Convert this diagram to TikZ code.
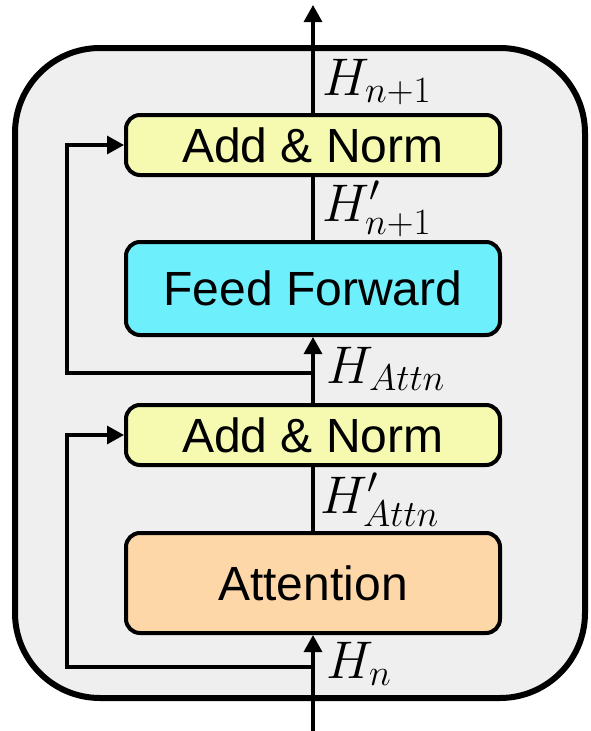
\documentclass[tikz,border=0pt]{standalone}
\usepackage{fix-cm}
\usepackage[no-math]{fontspec}
\setmainfont{Liberation Sans}
\usetikzlibrary{arrows.meta}

\definecolor{blockgray}{RGB}{239,239,239}
\definecolor{normyellow}{RGB}{245,250,176}
\definecolor{ffcyan}{RGB}{110,240,252}
\definecolor{attpeach}{RGB}{253,215,168}

\tikzset{
  block/.style={draw=black, line width=6pt, fill=blockgray, rounded corners=85pt,
                minimum width=570pt, minimum height=650pt, inner sep=0pt},
  layerbox/.style={draw=black, line width=4pt, rounded corners=14pt,
                   minimum width=374pt, inner sep=0pt,
                   font=\fontsize{48}{56}\selectfont},
  normbox/.style={layerbox, fill=normyellow, minimum height=60pt},
  link/.style={draw=black, line width=3.2pt},
  arr/.style={link, -{Triangle[length=17pt,width=18pt]}},
  hlabel/.style={anchor=base west, inner sep=0pt, font=\fontsize{53}{60}\selectfont},
}

\begin{document}
\begin{tikzpicture}[x=1pt,y=-1pt]
  \useasboundingbox (0,0) rectangle (590,731);

  % enclosing layer block
  \node[block] (layer) at (300,373) {};

  % sub-layers
  \node[normbox] (an2) at (313,145) {Add \& Norm};
  \node[layerbox, fill=ffcyan, minimum height=93pt] (ff) at (313,288.5) {Feed Forward};
  \node[normbox] (an1) at (313,435) {Add \& Norm};
  \node[layerbox, fill=attpeach, minimum height=100pt] (att) at (313,583) {Attention};

  % stream end points and residual branch corners
  \coordinate (in)  at (313,731);
  \coordinate (out) at (313,5);
  \coordinate (s1)  at (313,667);
  \coordinate (c1)  at (67,667);
  \coordinate (s2)  at (313,373);
  \coordinate (c2)  at (67,373);

  % main stream
  \draw[arr] (in) -- (att);
  \draw[link] (att) -- (an1);
  \draw[arr] (an1) -- (ff);
  \draw[link] (ff) -- (an2);
  \draw[arr] (an2) -- (out);

  % residual connections
  \draw[arr] (s1) -- (c1) |- (an1.west);
  \draw[arr] (s2) -- (c2) |- (an2.west);

  % hidden state labels
  \node[hlabel] (lout)  at (322,95)  {$H_{n+1}$};
  \node[hlabel] (lffo)  at (322,221) {$H'_{n+1}$};
  \node[hlabel] (lattn) at (326,383) {$H_{Attn}$};
  \node[hlabel] (latto) at (320,513) {$H'_{Attn}$};
  \node[hlabel] (lin)   at (326,678) {$H_n$};
\end{tikzpicture}
\end{document}
